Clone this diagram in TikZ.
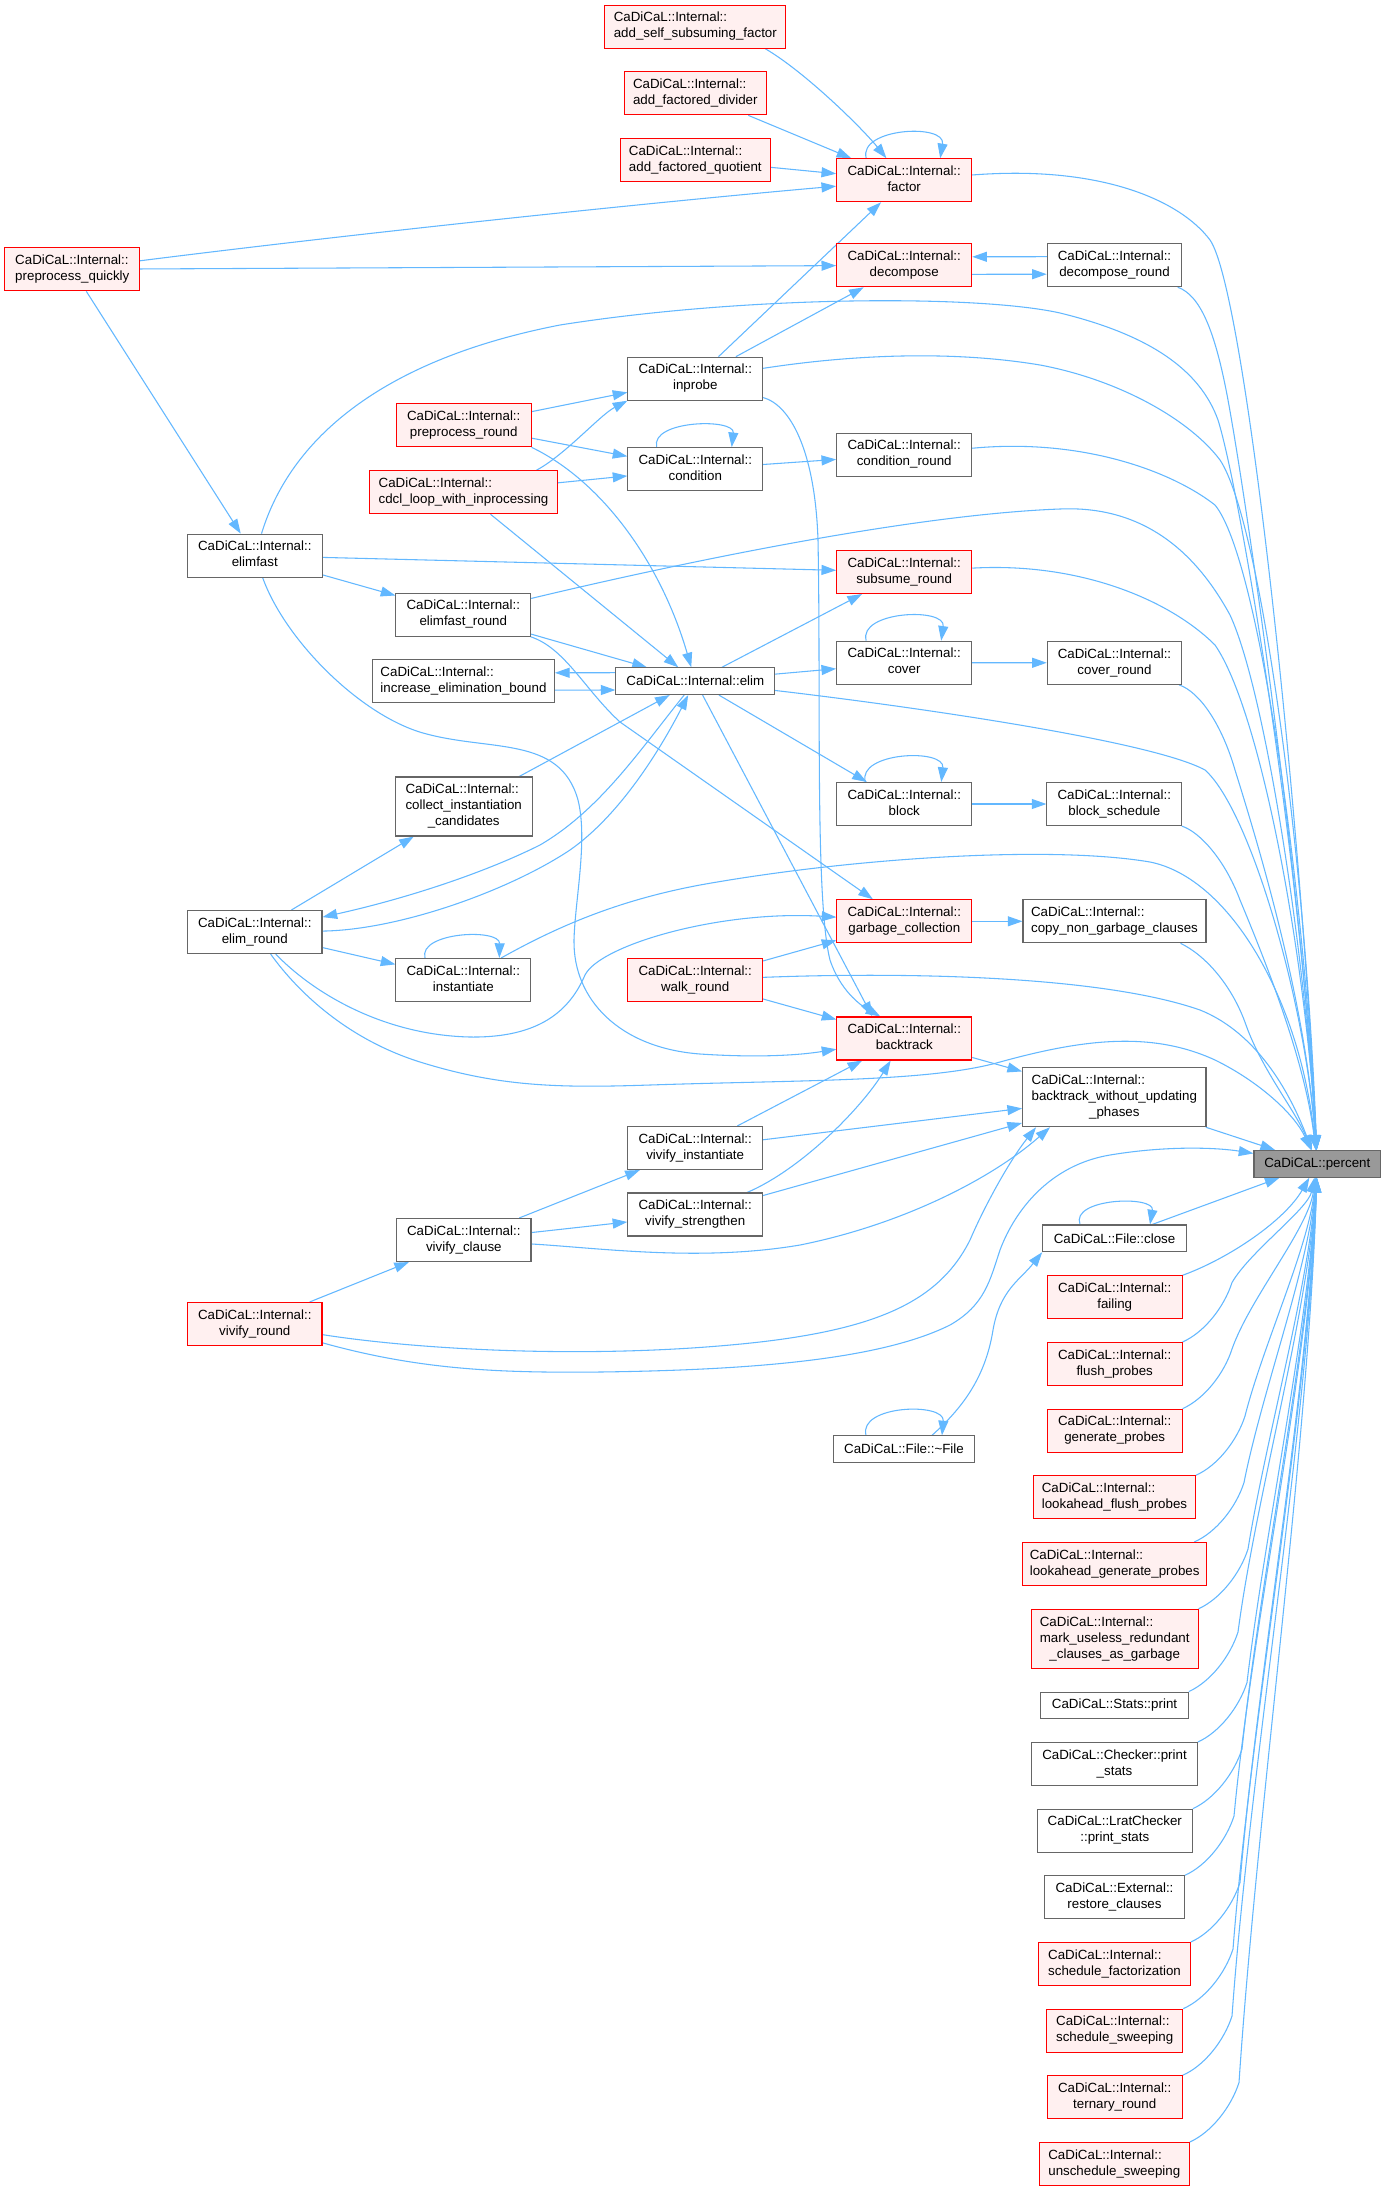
\documentclass[tikz,border=0pt]{standalone}
\usepackage{fontspec}
\setmainfont{Liberation Sans}
\usetikzlibrary{arrows.meta,calc}
\definecolor{eb}{HTML}{63B8FF}
\definecolor{pk}{HTML}{FFF0F0}
\definecolor{gb}{HTML}{666666}
\definecolor{rt}{HTML}{999999}
\definecolor{rb}{HTML}{FF0000}
\pgfdeclarelayer{bg}
\pgfsetlayers{bg,main}
\newcommand\Itwo[2]{\begin{tabular}{@{}l@{}}#1\\\multicolumn{1}{@{}c@{}}{#2}\end{tabular}}
\newcommand\Ithree[3]{\begin{tabular}{@{}l@{}}#1\\#2\\\multicolumn{1}{@{}c@{}}{#3}\end{tabular}}
\newcommand\cadint{CaDiCaL::Internal::}
\begin{document}
\begin{tikzpicture}[x=0.75pt,y=-0.75pt,
 nbase/.style={rectangle, line width=0.8pt, inner xsep=3pt, inner ysep=0pt, minimum width=134.7*0.75pt, minimum height=32.25pt, text=black, font=\normalsize},
 gn/.style={nbase, draw=gb, fill=white},
 rn/.style={nbase, draw=rb, fill=pk},
 rootn/.style={nbase, draw=gb, fill=rt},
 hone/.style={minimum height=20pt},
 hthree/.style={minimum height=44.25pt},
 bw/.style={minimum width=#1*0.75pt},
 edg/.style={draw=eb, line width=0.8pt, -{Triangle[length=11pt,width=7.5pt]}}]
\useasboundingbox (0,0) rectangle (1386,2191);
% nodes
\node[rn,bw=180.7] (asf) at (695.3,26.7) {\Itwo{\cadint}{add\_self\_subsuming\_factor}};
\node[rn,bw=142] (afd) at (695.3,93.3) {\Itwo{\cadint}{add\_factored\_divider}};
\node[rn,bw=150] (afq) at (695.3,160) {\Itwo{\cadint}{add\_factored\_quotient}};
\node[rn,bw=135] (factor) at (904.2,180.3) {\Itwo{\cadint}{factor}};
\node[rn] (pq) at (72.3,269.3) {\Itwo{\cadint}{preprocess\_quickly}};
\node[rn,bw=135] (decomp) at (904.2,265.3) {\Itwo{\cadint}{decompose}};
\node[gn,bw=134.4] (decround) at (1114.5,265.2) {\Itwo{\cadint}{decompose\_round}};
\node[gn] (inprobe) at (695.3,378.7) {\Itwo{\cadint}{inprobe}};
\node[rn] (prepround) at (463.7,425.3) {\Itwo{\cadint}{preprocess\_round}};
\node[gn,bw=135] (condround) at (904.2,454.7) {\Itwo{\cadint}{condition\_round}};
\node[gn] (cond) at (695.3,469.2) {\Itwo{\cadint}{condition}};
\node[rn,bw=188.2] (cdcl) at (463.5,492.2) {\Itwo{\cadint}{cdcl\_loop\_with\_inprocessing}};
\node[gn] (elimfast) at (254.8,555.7) {\Itwo{\cadint}{elimfast}};
\node[rn,bw=135] (subsume) at (904.2,572) {\Itwo{\cadint}{subsume\_round}};
\node[gn] (efround) at (463.3,614.7) {\Itwo{\cadint}{elimfast\_round}};
\node[gn,bw=181.7] (ieb) at (463.5,681.3) {\Itwo{\cadint}{increase\_elimination\_bound}};
\node[gn,hone,bw=158.7] (elim) at (695.3,681.2) {CaDiCaL::Internal::elim};
\node[gn,bw=135] (cover) at (904.2,662.7) {\Itwo{\cadint}{cover}};
\node[gn,bw=134.4] (coverround) at (1114.5,662.8) {\Itwo{\cadint}{cover\_round}};
\node[gn,hthree,bw=136.7] (collect) at (463.7,806.5) {\Ithree{\cadint}{collect\_instantiation}{\_candidates}};
\node[gn] (block) at (904.3,804) {\Itwo{\cadint}{block}};
\node[gn] (blocksched) at (1114.3,804) {\Itwo{\cadint}{block\_schedule}};
\node[gn,bw=134.4] (elimround) at (254.8,932) {\Itwo{\cadint}{elim\_round}};
\node[rn] (gc) at (904.3,921.3) {\Itwo{\cadint}{garbage\_collection}};
\node[gn,bw=183] (copyngc) at (1114.5,921.3) {\Itwo{\cadint}{copy\_non\_garbage\_clauses}};
\node[gn] (inst) at (463.3,980) {\Itwo{\cadint}{instantiate}};
\node[rn] (walk) at (695.2,980) {\Itwo{\cadint}{walk\_round}};
\node[rn] (backtrack) at (904.3,1038.5) {\Itwo{\cadint}{backtrack}};
\node[gn,hthree,bw=183.4] (bwup) at (1114.3,1097.2) {\Ithree{\cadint}{backtrack\_without\_updating}{\_phases}};
\node[gn] (vivinst) at (695.2,1148) {\Itwo{\cadint}{vivify\_instantiate}};
\node[rootn,hone,bw=126.7] (percent) at (1317.3,1163.8) {CaDiCaL::percent};
\node[gn] (vivstr) at (695.2,1214.5) {\Itwo{\cadint}{vivify\_strengthen}};
\node[gn,bw=134.4] (vivclause) at (463.8,1240) {\Itwo{\cadint}{vivify\_clause}};
\node[gn,hone,bw=143.5] (close) at (1114.5,1238.3) {CaDiCaL::File::close};
\node[rn] (failing) at (1114.7,1297.3) {\Itwo{\cadint}{failing}};
\node[rn,bw=134.4] (vivround) at (254.8,1324) {\Itwo{\cadint}{vivify\_round}};
\node[rn] (flush) at (1114.7,1364) {\Itwo{\cadint}{flush\_probes}};
\node[gn,hone,bw=141.3] (dtor) at (904,1449.2) {CaDiCaL::File::\textasciitilde File};
\node[rn] (genprobes) at (1114.7,1430.7) {\Itwo{\cadint}{generate\_probes}};
\node[rn,bw=161.7] (laflush) at (1114.5,1497.3) {\Itwo{\cadint}{lookahead\_flush\_probes}};
\node[rn,bw=184] (lagen) at (1114.7,1564) {\Itwo{\cadint}{lookahead\_generate\_probes}};
\node[rn,hthree,bw=166.7] (markuseless) at (1114.7,1638.8) {\Ithree{\cadint}{mark\_useless\_redundant}{\_clauses\_as\_garbage}};
\node[gn,hone,bw=147.6] (statsprint) at (1114.5,1705.4) {CaDiCaL::Stats::print};
\node[gn,bw=165.7] (checker) at (1114.5,1764) {\Itwo{CaDiCaL::Checker::print}{\_stats}};
\node[gn,bw=155] (lrat) at (1114.8,1830.7) {\Itwo{CaDiCaL::LratChecker}{::print\_stats}};
\node[gn,bw=139.7] (external) at (1114.5,1897.3) {\Itwo{CaDiCaL::External::}{restore\_clauses}};
\node[rn,bw=151.7] (schedfact) at (1114.5,1964) {\Itwo{\cadint}{schedule\_factorization}};
\node[rn,bw=136] (schedsweep) at (1114.7,2030.7) {\Itwo{\cadint}{schedule\_sweeping}};
\node[rn] (ternary) at (1114.7,2097.3) {\Itwo{\cadint}{ternary\_round}};
\node[rn,bw=150] (unsched) at (1114.3,2164) {\Itwo{\cadint}{unschedule\_sweeping}};
\begin{pgfonlayer}{bg}
\fill[white] (0,0) rectangle (1386,2191);
% upper left area
\draw[edg] ($(asf.south)+(70,0)$) .. controls (805,72) and (862,128) .. (factor);
\draw[edg] (afd) -- (factor);
\draw[edg] (afq) -- (factor);
\draw[edg] ($(factor.north)+(-38,0)$) .. controls (858,128) and (946,123) .. ($(factor.north)+(36,0)$);
\draw[edg] (pq) .. controls (400,228) and (700,198) .. (factor);
\draw[edg] (pq) -- (decomp);
\draw[edg] (pq) -- (elimfast);
\draw[edg] ($(decround.west)+(0,-8.5)$) -- ($(decomp.east)+(0,-8.5)$);
\draw[edg] ($(decomp.east)+(0,9)$) -- ($(decround.west)+(0,9)$);
\draw[edg] (inprobe) -- (factor);
\draw[edg] (inprobe) -- (decomp);
\draw[edg] (prepround) -- (inprobe);
\draw[edg] (prepround) -- (cond);
\draw[edg] ($(cdcl.north)+(73,0)$) .. controls (565,455) and (600,415) .. (inprobe.south west);
\draw[edg] (cdcl) -- (cond);
\draw[edg] ($(cond.north)+(-38.6,0)$) .. controls (650,420) and (735,418) .. ($(cond.north)+(36.4,0)$);
\draw[edg] (cond) -- (condround);
\draw[edg] (elimfast) -- (subsume);
\draw[edg] (elimfast) -- (efround);
\draw[edg] (elimfast) .. controls (285,640) and (360,715) .. (423,733) .. controls (490,752) and (560,735) .. (578,800) .. controls (588,840) and (575,900) .. (574,940) .. controls (573,1000) and (620,1048) .. (700,1054) .. controls (760,1058) and (800,1055) .. (backtrack);
\draw[edg] (efround) -- (elim);
\draw[edg] (efround) .. controls (565,648) and (585,690) .. (620,722) -- (gc);
\draw[edg] (cdcl) -- (elim);
\draw[edg] (prepround.south east) .. controls (600,480) and (660,560) .. (elim);
\draw[edg] ($(elim.west)+(0,-8.5)$) -- ($(ieb.east)+(0,-8.5)$);
\draw[edg] ($(ieb.east)+(0,8.8)$) -- ($(elim.west)+(0,8.8)$);
\draw[edg] (elim) -- (cover);
\draw[edg] (elim) -- (subsume);
\draw[edg] (elim) -- (block);
\draw[edg] (elim) -- ($(backtrack.north)+(-32,0)$);
\draw[edg] (inprobe) .. controls (790,405) and (815,450) .. (818,540) .. controls (821,700) and (815,900) .. (830,960) .. controls (840,990) and (860,1005) .. ($(backtrack.north)+(-24,0)$);
\draw[edg] (elim) .. controls (640,750) and (600,810) .. (540,845) .. controls (480,875) and (400,900) .. (elimround);
\draw[edg] (elimround) .. controls (400,930) and (510,890) .. (570,850) .. controls (620,815) and (660,750) .. (elim);
\draw[edg] (collect) -- (elim);
\draw[edg] (elimround) -- (collect);
\draw[edg] (elimround) -- (inst);
\draw[edg] ($(inst.north)+(-38.3,0)$) .. controls (418,932) and (500,928) .. ($(inst.north)+(36,0)$);
\draw[edg] (elimround) .. controls (310,990) and (380,1035) .. (470,1037) .. controls (540,1038) and (570,1010) .. (585,975) .. controls (600,945) and (720,910) .. (gc);
\draw[edg] (walk) -- (gc);
\draw[edg] (walk) -- (backtrack);
\draw[edg] (gc) -- (copyngc);
\draw[edg] (block) -- (blocksched);
\draw[edg] ($(block.north)+(-39,0)$) .. controls (857,752) and (945,748) .. ($(block.north)+(37,0)$);
\draw[edg] (cover) -- (coverround);
\draw[edg] ($(cover.north)+(-38,0)$) .. controls (858,611) and (946,607) .. ($(cover.north)+(37,0)$);
\draw[edg] (backtrack) -- (bwup);
\draw[edg] (vivinst) -- (backtrack);
\draw[edg] (vivstr) .. controls (800,1170) and (860,1110) .. (backtrack);
\draw[edg] (vivinst) -- (bwup);
\draw[edg] (vivstr) -- (bwup);
\draw[edg] (vivclause) -- (vivinst);
\draw[edg] (vivclause) -- (vivstr);
\draw[edg] (vivclause) .. controls (600,1248) and (700,1262) .. (800,1245) .. controls (900,1225) and (990,1180) .. ($(bwup.south west)+(28,0)$);
\draw[edg] (vivround) -- (vivclause);
\draw[edg] (vivround) .. controls (420,1350) and (600,1360) .. (760,1342) .. controls (880,1328) and (940,1300) .. (970,1240) .. controls (985,1205) and (1010,1160) .. ($(bwup.south west)+(14,0)$);
\draw[edg] (vivround) .. controls (420,1370) and (500,1373) .. (600,1372) .. controls (750,1370) and (880,1360) .. (950,1325) .. controls (985,1305) and (990,1280) .. (1000,1250) .. controls (1015,1210) and (1050,1165) .. (1110,1155) .. controls (1170,1145) and (1220,1148) .. (percent);
\draw[edg] ($(dtor.north)+(-38,0)$) .. controls (858,1405) and (945,1402) .. ($(dtor.north)+(38,0)$);
\draw[edg] ($(dtor.north)+(28,0)$) .. controls (960,1410) and (985,1380) .. (993,1330) .. controls (1000,1290) and (1020,1280) .. (close.south west);
\draw[edg] ($(close.north)+(-34.5,0)$) .. controls (1070,1198) and (1155,1195) .. ($(close.north)+(35.5,0)$);
% to percent from above
\draw[edg] (factor) .. controls (1100,165) and (1180,200) .. (1210,240) .. controls (1245,290) and (1300,800) .. (percent);
\draw[edg] (decround) .. controls (1200,295) and (1215,330) .. (1228,400) .. controls (1250,520) and (1303,900) .. (percent);
\draw[edg] (elimfast) .. controls (290,440) and (380,360) .. (560,325) .. controls (750,295) and (980,295) .. (1060,313) .. controls (1150,335) and (1200,370) .. (1218,420) .. controls (1240,490) and (1300,850) .. (percent);
\draw[edg] (inprobe) .. controls (850,355) and (950,350) .. (1040,365) .. controls (1120,380) and (1190,420) .. (1220,460) .. controls (1260,520) and (1305,850) .. (percent);
\draw[edg] (condround) .. controls (1080,438) and (1170,470) .. (1215,505) .. controls (1260,560) and (1305,900) .. (percent);
\draw[edg] (efround) .. controls (650,570) and (900,515) .. (1060,509) .. controls (1150,505) and (1200,560) .. (1230,615) .. controls (1265,690) and (1305,950) .. (percent);
\draw[edg] (subsume) .. controls (1080,562) and (1170,600) .. (1215,645) .. controls (1260,710) and (1305,950) .. (percent);
\draw[edg] (coverround) .. controls (1200,692) and (1222,725) .. (1235,770) .. controls (1260,850) and (1305,1000) .. (percent);
\draw[edg] (elim) .. controls (900,705) and (1150,740) .. (1205,770) .. controls (1250,810) and (1305,1000) .. (percent);
\draw[edg] (blocksched) .. controls (1200,832) and (1225,860) .. (1240,900) .. controls (1265,960) and (1305,1060) .. (percent);
\draw[edg] ($(inst.north east)+(-30,0)$) .. controls (560,925) and (620,900) .. (700,885) .. controls (850,858) and (1050,845) .. (1150,862) .. controls (1230,878) and (1300,1000) .. (percent);
\draw[edg] ($(copyngc.south east)+(-26,0)$) .. controls (1205,955) and (1232,985) .. (1246,1025) .. controls (1262,1070) and (1295,1110) .. (percent);
\draw[edg] (walk) .. controls (900,972) and (1100,975) .. (1200,1010) .. controls (1250,1030) and (1285,1080) .. (percent);
\draw[edg] (elimround) .. controls (300,995) and (350,1040) .. (420,1062) .. controls (500,1087) and (560,1088) .. (650,1085) .. controls (800,1080) and (930,1082) .. (1000,1062) .. controls (1080,1040) and (1150,1030) .. (1215,1060) .. controls (1260,1082) and (1295,1115) .. (percent);
\draw[edg] (bwup) -- (percent);
\draw[edg] (close) -- (percent);
% to percent from below
\draw[edg] (failing.north east) .. controls (1230,1258) and (1285,1220) .. (percent);
\draw[edg] (flush.north east) .. controls (1204,1332.5) and (1224,1307.5) .. (1232,1282.5) .. controls (1250,1251.5) and (1308,1209) .. (percent);
\draw[edg] (genprobes.north east) .. controls (1204,1399) and (1224,1374) .. (1232,1349) .. controls (1250,1298) and (1308,1229) .. (percent);
\draw[edg] (laflush.north east) .. controls (1217,1466) and (1237,1441) .. (1245,1416) .. controls (1263,1345) and (1308,1249) .. (percent);
\draw[edg] ($(lagen.north east)+(-13,0)$) .. controls (1216,1532.5) and (1236,1507.5) .. (1244,1482.5) .. controls (1262,1391.5) and (1308,1269) .. (percent);
\draw[edg] (markuseless.north east) .. controls (1220,1599) and (1240,1574) .. (1248,1549) .. controls (1266,1438) and (1308,1289) .. (percent);
\draw[edg] (statsprint.north east) .. controls (1210,1682) and (1230,1657) .. (1238,1632) .. controls (1256,1496) and (1308,1314) .. (percent);
\draw[edg] (checker.north east) .. controls (1219,1732.5) and (1239,1707.5) .. (1247,1682.5) .. controls (1265,1531.5) and (1308,1329) .. (percent);
\draw[edg] (lrat.north east) .. controls (1214,1799) and (1234,1774) .. (1242,1749) .. controls (1260,1578) and (1308,1349) .. (percent);
\draw[edg] (external.north east) .. controls (1206,1866) and (1226,1841) .. (1234,1816) .. controls (1252,1625) and (1308,1369) .. (percent);
\draw[edg] (schedfact.north east) .. controls (1212,1932.5) and (1232,1907.5) .. (1240,1882.5) .. controls (1258,1671.5) and (1308,1389) .. (percent);
\draw[edg] (schedsweep.north east) .. controls (1205,1999) and (1225,1974) .. (1233,1949) .. controls (1251,1718) and (1308,1409) .. (percent);
\draw[edg] (ternary.north east) .. controls (1204,2066) and (1224,2041) .. (1232,2016) .. controls (1250,1765) and (1308,1429) .. (percent);
\draw[edg] (unsched.north east) .. controls (1211,2132.5) and (1231,2107.5) .. (1239,2082.5) .. controls (1257,1811.5) and (1308,1449) .. (percent);
\end{pgfonlayer}
\end{tikzpicture}
\end{document}
